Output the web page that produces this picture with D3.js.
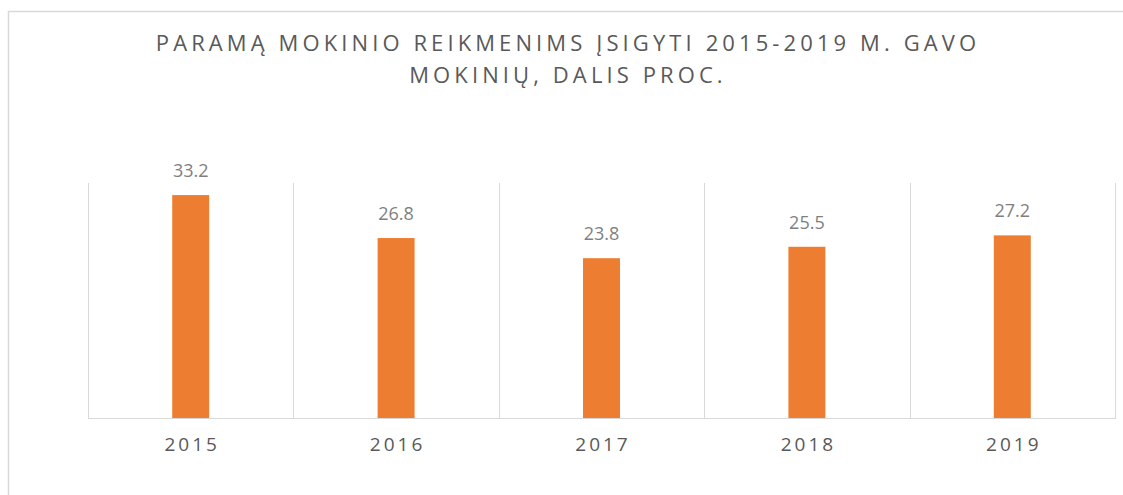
<!DOCTYPE html>
<html lang="lt">
<head>
<meta charset="UTF-8">
<title>Paramą mokinio reikmenims įsigyti</title>
<script src="https://d3js.org/d3.v7.min.js"></script>
<style>
html, body {
  margin: 0;
  padding: 0;
  background-color: white;
}
body {
  font-family: 'Open Sans', sans-serif;
}
.title {
  font-size: 22px;
  fill: #595959;
  letter-spacing: 4.1px;
}
.value-label {
  font-size: 18px;
  fill: #7f7f7f;
}
.x-axis text {
  font-family: 'Open Sans', sans-serif;
  font-size: 19px;
  fill: #595959;
  letter-spacing: 3px;
}
.x-axis path, .x-axis line {
  stroke: none;
}
.grid {
  stroke: #d9d9d9;
  stroke-width: 1px;
}
</style>
</head>
<body>
<div id="chart"></div>
<script>

// --------------------------------------
// Data
// --------------------------------------

const years = ["2015", "2016", "2017", "2018", "2019"];
const shares = [33.2, 26.8, 23.8, 25.5, 27.2];
const titleLines = ["PARAMĄ MOKINIO REIKMENIMS ĮSIGYTI 2015-2019 M. GAVO", "MOKINIŲ, DALIS PROC."];

// --------------------------------------
// Size and margin
// --------------------------------------

let totalWidth = 1123;
let totalHeight = 495;
let plot = {left: 88, right: 1115, top: 183, bottom: 418};

let svg = d3.select("#chart")
  .append("svg")
  .attr("width", totalWidth)
  .attr("height", totalHeight);

// chart frame
svg.append("rect")
  .attr("x", 8.5)
  .attr("y", 11.5)
  .attr("width", 1130)
  .attr("height", 500)
  .attr("fill", "white")
  .attr("stroke", "#d9d9d9")
  .attr("stroke-width", 1.5);

// --------------------------------------
// Title
// --------------------------------------

svg.append("g")
  .selectAll("text")
  .data(titleLines)
  .join("text")
  .attr("class", "title")
  .attr("x", 568)
  .attr("y", (d, i) => 51 + i * 32)
  .attr("text-anchor", "middle")
  .text(d => d);

// --------------------------------------
// Scales
// --------------------------------------

let x = d3.scaleBand()
  .domain(years)
  .range([plot.left, plot.right])
  .padding(0);

let y = d3.scaleLinear()
  .domain([0, 35])
  .range([plot.bottom, plot.top]);

let barWidth = x.bandwidth() * 0.18;

// --------------------------------------
// Gridlines
// --------------------------------------

let bounds = years.map(d => x(d)).concat([x(years[years.length - 1]) + x.bandwidth()]);

svg.selectAll(".vgrid")
  .data(bounds)
  .join("line")
  .attr("class", "grid")
  .attr("x1", d => Math.round(d) + 0.5)
  .attr("x2", d => Math.round(d) + 0.5)
  .attr("y1", y(35))
  .attr("y2", y(0));

svg.append("line")
  .attr("class", "grid")
  .attr("x1", plot.left)
  .attr("x2", plot.right + 1)
  .attr("y1", y(0) + 0.5)
  .attr("y2", y(0) + 0.5);

// --------------------------------------
// Bars
// --------------------------------------

svg.selectAll(".bar")
  .data(shares)
  .join("rect")
  .attr("class", "bar")
  .attr("x", (d, i) => x(years[i]) + x.bandwidth() / 2 - barWidth / 2)
  .attr("y", d => y(d))
  .attr("width", barWidth)
  .attr("height", d => y(0) - y(d))
  .attr("fill", "#ed7d31");

svg.selectAll(".value-label")
  .data(shares)
  .join("text")
  .attr("class", "value-label")
  .attr("x", (d, i) => x(years[i]) + x.bandwidth() / 2)
  .attr("y", d => y(d) - 18)
  .attr("text-anchor", "middle")
  .text(d => d.toFixed(1));

// --------------------------------------
// Axis
// --------------------------------------

svg.append("g")
  .attr("class", "x-axis")
  .attr("transform", `translate(0,${plot.bottom})`)
  .call(d3.axisBottom(x).tickSize(0).tickPadding(20))
  .selectAll("text")
  .attr("dx", "1.5px");

</script>
</body>
</html>
